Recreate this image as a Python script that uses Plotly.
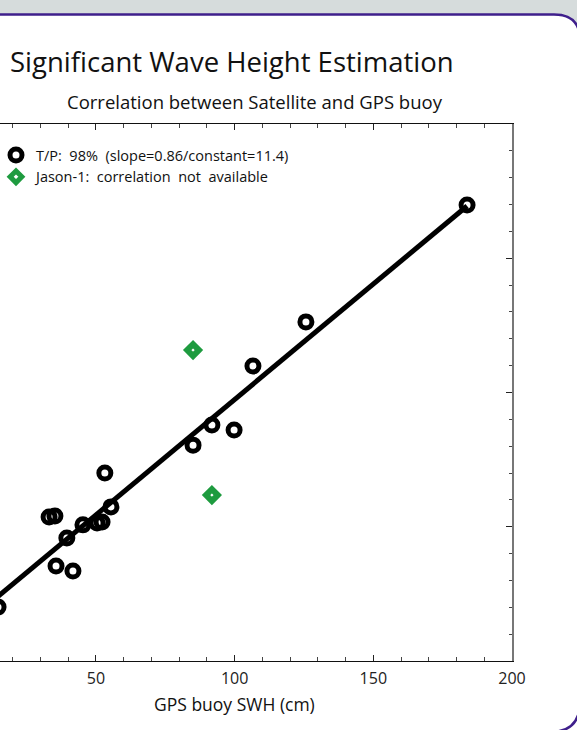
import plotly.graph_objects as go

# ---------------- data ----------------
tp_x = [14.7, 33.1, 35.2, 35.6, 39.5, 41.7, 45.3, 50.4, 52.2, 53.2, 55.4,
        85.0, 91.8, 99.8, 106.6, 125.7, 183.8]
tp_y = [20.1, 53.6, 54.0, 35.4, 45.8, 33.5, 50.7, 51.4, 51.8, 70.0, 57.4,
        80.4, 87.9, 86.0, 109.9, 126.3, 169.8]
jason_x = [85.0, 91.8]
jason_y = [115.8, 61.8]
fit_slope = 0.86
fit_const = 11.4

title_text = "Significant Wave Height Estimation"
subtitle_text = "Correlation between Satellite and GPS buoy"
xlabel_text = "GPS buoy SWH (cm)"
tp_label = "T/P:  98%  (slope=0.86/constant=11.4)"
jason_label = "Jason-1:  correlation  not  available"

# ---------------- layout geometry ----------------
W, H = 577, 730
PL, PR, PT, PB = 0, 512, 124, 661   # plot area pixel box
FONT = "Open Sans"

def px(x):
    return (x - PL) / (PR - PL)

def py(y):
    return (PB - y) / (PB - PT)

def path(points_cmds):
    out = []
    for cmd, pts in points_cmds:
        s = cmd + " " + " ".join(f"{px(a):.5f},{py(b):.5f}" for a, b in pts)
        out.append(s)
    return " ".join(out)

fit_x = [min(tp_x), max(tp_x)]
fit_y = [fit_slope * v + fit_const for v in fit_x]

fig = go.Figure()
fig.add_trace(go.Scatter(x=fit_x, y=fit_y, mode="lines",
                         line=dict(color="black", width=5),
                         showlegend=False, hoverinfo="skip"))
fig.add_trace(go.Scatter(x=tp_x, y=tp_y, mode="markers", name=tp_label,
                         marker=dict(symbol="circle-open", size=12,
                                     color="black",
                                     line=dict(color="black", width=5))))
fig.add_trace(go.Scatter(x=jason_x, y=jason_y, mode="markers", name=jason_label,
                         marker=dict(symbol="diamond-open", size=9,
                                     color="#1e9b3f",
                                     line=dict(color="#1e9b3f", width=6))))

purple = "#3f1f8c"
shapes = [
    dict(type="rect", xref="paper", yref="paper", x0=px(0), x1=px(W),
         y0=py(0), y1=py(40), fillcolor="#d6dcdc", line=dict(width=0), layer="below"),
    dict(type="path", xref="paper", yref="paper",
         path=path([("M", [(0, 14.5)]), ("L", [(554, 14.5)]),
                    ("Q", [(580, 14.5), (580, 40)]), ("L", [(580, 118)]),
                    ("L", [(0, 118)])]) + " Z",
         fillcolor="white", line=dict(width=0), layer="below"),
    dict(type="path", xref="paper", yref="paper",
         path=path([("M", [(-5, 14.5)]), ("L", [(554, 14.5)]),
                    ("Q", [(580, 14.5), (580, 40)]), ("L", [(580, 100)])]),
         line=dict(color=purple, width=2.5), layer="below"),
    dict(type="path", xref="paper", yref="paper",
         path=path([("M", [(550, 732)]), ("Q", [(580, 732), (580, 702)])]),
         line=dict(color=purple, width=2.5), layer="below"),
]

annotations = [
    dict(text=title_text, xref="paper", yref="paper", x=px(8), y=py(61),
         xanchor="left", yanchor="middle", showarrow=False,
         font=dict(family=FONT, size=27.5, color="#111")),
    dict(text=subtitle_text, xref="paper", yref="paper", x=px(255), y=py(102),
         xanchor="center", yanchor="middle", showarrow=False,
         font=dict(family=FONT, size=18.5, color="#111")),
    dict(text=xlabel_text, xref="x", yref="paper", x=100, y=py(704),
         xanchor="center", yanchor="middle", showarrow=False,
         font=dict(family=FONT, size=17.5, color="#111")),
]

fig.update_layout(
    width=W, height=H,
    margin=dict(l=PL, r=W - PR, t=PT, b=H - PB, pad=0, autoexpand=False),
    paper_bgcolor="white", plot_bgcolor="rgba(0,0,0,0)",
    shapes=shapes, annotations=annotations,
    showlegend=True,
    legend=dict(x=px(-4), y=py(139), xanchor="left", yanchor="top",
                bgcolor="rgba(0,0,0,0)", font=dict(family=FONT, size=14.5, color="#111"),
                tracegroupgap=0, itemsizing="trace"),
    xaxis=dict(range=[15.4, 200], tick0=0, dtick=50, ticks="inside", ticklen=6,
               tickwidth=1, tickcolor="#222", showline=True, linecolor="#111",
               linewidth=1.2, mirror="allticks", showgrid=False, zeroline=False,
               tickfont=dict(family=FONT, size=16, color="#222"),
               ticklabelstandoff=3,
               minor=dict(dtick=10, ticks="inside", ticklen=3.5, tickcolor="#444",
                          showgrid=False)),
    yaxis=dict(range=[0, 200], side="right", tick0=0, dtick=50, ticks="inside",
               ticklen=6, tickwidth=1, tickcolor="#222", showline=True,
               linecolor="#777", linewidth=1.6, showticklabels=False,
               showgrid=False, zeroline=False,
               minor=dict(dtick=10, ticks="inside", ticklen=3.5, tickcolor="#444",
                          showgrid=False)),
)

fig.write_html("out.html")
